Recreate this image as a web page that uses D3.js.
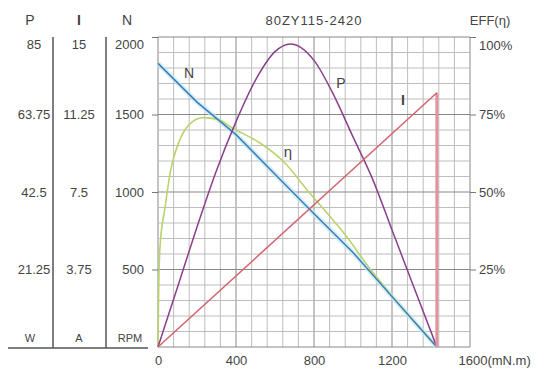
<!DOCTYPE html>
<html>
<head>
    <meta charset="utf-8">
    <title>80ZY115-2420</title>
    <script src="https://cdn.jsdelivr.net/npm/d3@7"></script>
    <style>
        body { margin: 0; background: #fff; }
        text { font-family: "Liberation Sans", Arial, sans-serif; font-size: 13px; fill: #444; }
        .axis path, .axis line { stroke: #777; }
        .axis text { fill: #444; font-size: 13px; }
    </style>
</head>
<body>
<script>
    // values
    var xTicks = [0, 400, 800, 1200, 1600];
    var pTicks = [21.25, 42.5, 63.75, 85];
    var iTicks = [3.75, 7.5, 11.25, 15];
    var nTicks = [500, 1000, 1500, 2000];
    var effTicks = [25, 50, 75, 100];

    var torqueN = [0, 200, 400, 600, 800, 1000, 1200, 1430];
    var speedN = [1830, 1580, 1370, 1115, 860, 610, 325, 0];

    var torqueP = [0, 100, 200, 300, 400, 500, 600, 680, 800, 900, 1000, 1100, 1200, 1300, 1430];
    var powerP = [0, 16.4, 32.9, 48.4, 61.8, 73.2, 81, 83.1, 78.6, 69.2, 57.6, 46.1, 32.1, 18.1, 0];

    var torqueE = [0, 3, 10, 36, 62, 113, 164, 231, 303, 385, 523, 641, 780, 870, 950, 1090, 1430];
    var effE = [0, 16, 32, 45, 56, 67, 72, 74, 73.5, 70.5, 65.8, 60, 49.5, 43, 37, 25, 0];

    var torqueI = [0, 1430];
    var currentI = [0, 12.3];

    var width = 540, height = 372;
    var plotL = 158, plotR = 470, plotT = 37, plotB = 347;

    var svg = d3.select("body").append("svg")
        .attr("width", width)
        .attr("height", height);

    var x = d3.scaleLinear().domain([0, 1600]).range([plotL, plotR]);
    var yN = d3.scaleLinear().domain([0, 2000]).range([plotB, plotT]);
    var yP = d3.scaleLinear().domain([0, 85]).range([plotB, plotT]);
    var yI = d3.scaleLinear().domain([0, 15]).range([plotB, plotT]);
    var yE = d3.scaleLinear().domain([0, 100]).range([plotB, plotT]);

    // grid: 20 x 20 cells, darker every 5
    var grid = svg.append("g");
    d3.range(0, 1601, 80).forEach(function (v, i) {
        grid.append("line")
            .attr("x1", x(v)).attr("x2", x(v))
            .attr("y1", plotT).attr("y2", plotB)
            .attr("stroke", i % 5 == 0 ? "#888" : "#bdbdbd")
            .attr("stroke-width", 1);
    });
    d3.range(0, 2001, 100).forEach(function (v, i) {
        grid.append("line")
            .attr("x1", plotL).attr("x2", plotR)
            .attr("y1", yN(v)).attr("y2", yN(v))
            .attr("stroke", i % 5 == 0 ? "#888" : "#bdbdbd")
            .attr("stroke-width", 1);
    });

    // left panel
    var panel = svg.append("g");
    panel.append("line").attr("x1", 8).attr("x2", 148).attr("y1", plotB + 1).attr("y2", plotB + 1)
        .attr("stroke", "#555").attr("stroke-width", 1.5);
    [53, 106].forEach(function (px) {
        panel.append("line").attr("x1", px).attr("x2", px).attr("y1", plotT).attr("y2", plotB + 1)
            .attr("stroke", "#555").attr("stroke-width", 1.5);
    });

    var heads = [["P", 30, "W"], ["I", 79, "A"], ["N", 127, "RPM"]];
    heads.forEach(function (h) {
        panel.append("text").attr("x", h[1]).attr("y", 25).attr("text-anchor", "middle")
            .style("font-size", "14px").style("font-weight", h[0] == "I" ? "bold" : "normal")
            .text(h[0]);
        panel.append("text").attr("x", h[1] + (h[2] == "RPM" ? 3 : 0)).attr("y", 342).attr("text-anchor", "middle")
            .style("font-size", "11px").text(h[2]);
    });

    function colLabels(ticks, scale, cx) {
        panel.selectAll(null).data(ticks).enter().append("text")
            .attr("x", cx)
            .attr("y", function (d) { return Math.max(scale(d), plotT + 7); })
            .attr("dy", "0.35em")
            .attr("text-anchor", "middle")
            .text(function (d) { return d; });
    }
    colLabels(pTicks, yP, 34);
    colLabels(iTicks, yI, 79);

    // N axis on the left of the plot
    var axN = svg.append("g").attr("class", "axis")
        .attr("transform", "translate(" + plotL + ",0)")
        .call(d3.axisLeft(yN).tickValues(nTicks).tickSize(6).tickPadding(8).tickFormat(d3.format("d")));
    axN.select(".domain").remove();
    axN.selectAll(".tick text").filter(function (d) { return d == 2000; }).attr("y", 7);

    // efficiency axis on the right
    var axE = svg.append("g").attr("class", "axis")
        .attr("transform", "translate(" + plotR + ",0)")
        .call(d3.axisRight(yE).tickValues(effTicks).tickSize(6).tickPadding(3)
            .tickFormat(function (d) { return d + "%"; }));
    axE.select(".domain").remove();
    axE.selectAll(".tick text").filter(function (d) { return d == 100; }).attr("y", 8);

    // torque axis
    var axX = svg.append("g").attr("class", "axis")
        .attr("transform", "translate(0," + plotB + ")")
        .call(d3.axisBottom(x).tickValues(xTicks).tickSize(0).tickPadding(9)
            .tickFormat(function (d) { return d == 1600 ? "1600(mN.m)" : d; }));
    axX.select(".domain").remove();
    axX.selectAll(".tick text").filter(function (d) { return d == 1600; })
        .attr("text-anchor", "start").attr("x", -12);

    // curves
    var curves = svg.append("g");

    var lineN = d3.line().x(function (d) { return x(d[0]); }).y(function (d) { return yN(d[1]); });
    var dataN = d3.zip(torqueN, speedN);
    curves.append("path").attr("d", lineN(dataN))
        .attr("fill", "none").attr("stroke", "#bfeaf7").attr("stroke-width", 5).attr("opacity", 0.7);

    var lineE = d3.line().curve(d3.curveMonotoneX)
        .x(function (d) { return x(d[0]); }).y(function (d) { return yE(d[1]); });
    curves.append("path").attr("d", lineE(d3.zip(torqueE, effE)))
        .attr("fill", "none").attr("stroke", "#b9d46d").attr("stroke-width", 1.6);

    curves.append("path").attr("d", lineN(dataN))
        .attr("fill", "none").attr("stroke", "#3f7db8").attr("stroke-width", 1.5);

    var lineP = d3.line().curve(d3.curveMonotoneX)
        .x(function (d) { return x(d[0]); }).y(function (d) { return yP(d[1]); });
    curves.append("path").attr("d", lineP(d3.zip(torqueP, powerP)))
        .attr("fill", "none").attr("stroke", "#8a3f8c").attr("stroke-width", 1.5);

    var lineI = d3.line().x(function (d) { return x(d[0]); }).y(function (d) { return yI(d[1]); });
    var iEnd = torqueI[torqueI.length - 1], iMax = currentI[currentI.length - 1];
    curves.append("path").attr("d", lineI([[iEnd, iMax], [iEnd, 0]]))
        .attr("fill", "none").attr("stroke", "#e2939c").attr("stroke-width", 3);
    curves.append("path").attr("d", lineI(d3.zip(torqueI, currentI)))
        .attr("fill", "none").attr("stroke", "#d2636d").attr("stroke-width", 1.5);

    // curve names
    svg.append("text").attr("x", 189).attr("y", 78).attr("text-anchor", "middle").style("font-size", "14px").text("N");
    svg.append("text").attr("x", 341).attr("y", 88).attr("text-anchor", "middle").style("font-size", "14px").text("P");
    svg.append("text").attr("x", 403).attr("y", 105).attr("text-anchor", "middle").style("font-size", "14px").style("font-weight", "bold").text("I");
    svg.append("text").attr("x", 288).attr("y", 157).attr("text-anchor", "middle").style("font-size", "15px").text("η");

    // titles
    svg.append("text").attr("x", 314).attr("y", 25).attr("text-anchor", "middle")
        .style("letter-spacing", "1px").text("80ZY115-2420");
    svg.append("text").attr("x", 490).attr("y", 25).attr("text-anchor", "middle").text("EFF(η)");
</script>
</body>
</html>
